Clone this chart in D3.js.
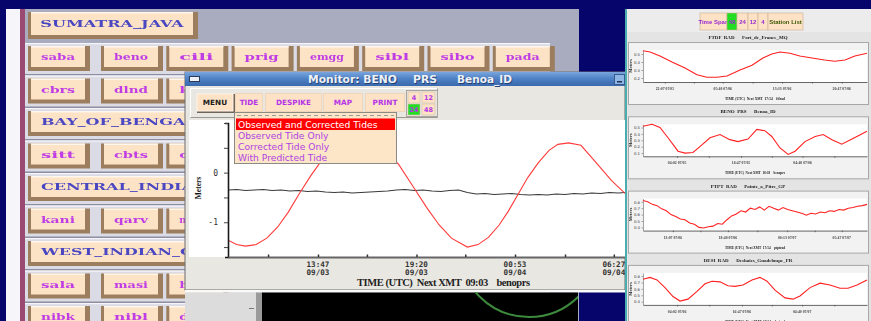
<!DOCTYPE html>
<html><head><meta charset="utf-8">
<script src="https://cdn.jsdelivr.net/npm/d3@7/dist/d3.min.js"></script>
<style>
html,body{margin:0;padding:0;background:#05056c;overflow:hidden}
svg{display:block}
.pre{white-space:pre}
</style></head><body>
<svg id="chart" width="871" height="321"></svg>
<script>
// ---------------- DATA ----------------
const sectionNames = ["SUMATRA_JAVA","BAY_OF_BENGAL","CENTRAL_INDIAN","WEST_INDIAN_OCEAN"];
const stationRow1 = ["saba","beno","cili","prig","emgg","sibl","sibo","pada"];
const stationRow2 = ["cbrs","dlnd","kris"];
const stationRow3 = ["sitt","cbts","chtt"];
const stationRow4 = ["kani","qarv","mumb"];
const stationRow5 = ["sala","masi","hani"];
const stationRow6 = ["nibk","nibl","dhar"];

const monitorTitle = ["Monitor: BENO","PRS","Benoa_ID"];
const menuButtons = ["MENU","TIDE","DESPIKE","MAP","PRINT"];
const spanButtons = ["4","12","24","48"];
const activeSpan = "24";
const menuItems = ["Observed and Corrected Tides","Observed Tide Only","Corrected Tide Only","With Predicted Tide"];
const monAxisTitle = "TIME (UTC)  Next XMT  09:03    benoprs";
const monYTitle = "Meters";

// hours since 09/03 00:00 UTC
const monMajorHours = [13.783, 19.333, 24.883, 30.45];
const monMajorTimes = ["13:47","19:20","00:53","06:27"];
const monMajorDates = ["09/03","09/03","09/04","09/04"];
const monMinorHours = [10.97, 16.54, 22.08, 27.7];
const monYTicks = [-1.5, -1, -0.5, 0, 0.5, 1];
const monYLabelled = [0, -1];

// red: corrected tide (m)
const correctedHours = [8.71,9.2,9.7,10.3,10.9,11.5,12.1,12.77,13.4,14.0,14.7,15.3,15.9,16.6,17.3,18.3,19.25,19.9,20.6,21.3,22.2,22.8,23.4,24.0,24.5,25.05,25.6,26.2,26.8,27.3,27.9,28.6,29.5,30.3,31.08];
const correctedLevel = [-1.36,-1.45,-1.48,-1.45,-1.32,-1.1,-0.8,-0.4,-0.05,0.25,0.48,0.62,0.66,0.6,0.45,0.18,-0.34,-0.7,-1.05,-1.32,-1.5,-1.45,-1.3,-1.05,-0.78,-0.44,-0.1,0.2,0.45,0.57,0.6,0.55,0.18,-0.15,-0.42];
// black: observed (m)
const observedHours = [8.7,9.2,9.7,10.2,10.7,11.2,11.7,12.2,12.7,13.2,13.7,14.2,14.7,15.2,15.7,16.2,16.7,17.2,17.7,18.2,18.7,19.2,19.7,20.2,20.7,21.2,21.7,22.2,22.7,23.2,23.7,24.2,24.7,25.2,25.7,26.2,26.7,27.2,27.7,28.2,28.7,29.2,29.7,30.2,30.7,31.1];
const observedLevel = [-0.35,-0.34,-0.36,-0.35,-0.34,-0.36,-0.35,-0.37,-0.36,-0.38,-0.37,-0.39,-0.40,-0.39,-0.41,-0.40,-0.39,-0.38,-0.37,-0.35,-0.34,-0.36,-0.35,-0.37,-0.38,-0.36,-0.35,-0.40,-0.43,-0.42,-0.44,-0.43,-0.42,-0.44,-0.45,-0.44,-0.45,-0.43,-0.44,-0.42,-0.43,-0.41,-0.42,-0.40,-0.41,-0.40];

// right panel
const rightButtons = ["Time Span","48","24","12","4","Station List"];
const rightActive = "48";
const panelTitles = ["FTDF  RAD      Fort_de_France_MQ","BENO  PRS      Benoa_ID","PTPT  RAD      Pointe_a_Pitre_GP","DESI  RAD      Deshaies_Guadeloupe_FR"];
const panelAxisTitles = ["TIME (UTC)  Next XMT  17:54    ftfrad","TIME (UTC)  Next XMT  18:18    benoprs","TIME (UTC)  Next XMT  17:54    ptptrad","TIME (UTC)  Next XMT  17:54    desirad"];
const panelYDomains = [[0.15,0.55],[0.05,0.55],[0.35,0.85],[0.35,0.85]];
const panelYTicks = [[0.2,0.3,0.4,0.5],[0.1,0.2,0.3,0.4,0.5],[0.4,0.5,0.6,0.7,0.8],[0.4,0.5,0.6,0.7,0.8]];
const panelMajorHours = [[4.7,17.1,29.8,42.6],[7.3,21.0,34.2],[6.4,18.2,30.9,42.6],[7.3,21.2,34.1]];
const panelMinorHours = [[10.9,23.5,36.2],[14.1,27.6,41.0],[12.3,24.5,36.8],[14.2,27.6,41.0]];
const panelTickLabels = [["22:07 07/05","05:40 07/06","13:13 07/06","20:47 07/06"],["04:02 07/05","16:47 07/05","04:40 07/06"],["13:07 07/06","18:40 07/06","00:13 07/07","05:47 07/07"],["04:02 07/06","16:47 07/06","04:40 07/07"]];

const ftdfHours = [0,1.5,3.64,6.21,9.0,11.57,13.7,15.86,18.0,20.8,23.36,25.7,27.6,29.36,31.5,33.6,36.2,38.9,41.1,43.3,45.4,48];
const ftdfLevel = [0.54,0.525,0.475,0.40,0.325,0.24,0.21,0.21,0.225,0.30,0.36,0.45,0.50,0.525,0.51,0.475,0.45,0.425,0.41,0.425,0.475,0.51];
const benoHours = [0,1.93,3.64,5.36,7.5,9.0,10.7,12.2,14.36,16.5,18.6,20.35,22.5,24.4,26.1,27.6,29.36,31.1,32.6,34.7,36.9,38.6,40.5,42.6,44.8,48];
const benoLevel = [0.52,0.55,0.50,0.34,0.13,0.10,0.11,0.20,0.34,0.39,0.31,0.28,0.32,0.47,0.45,0.36,0.18,0.08,0.13,0.28,0.36,0.39,0.31,0.24,0.32,0.44];
const ptptHours = [0,1,2,3,4,5,6,7,8,9,10,11,12,13,14,15,16,17,18,19,20,21,22,23,24,25,26,27,28,29,30,31,32,33,34,35,36,37,38,39,40,41,42,43,44,45,46,47,48];
const ptptLevel = [0.82,0.80,0.76,0.74,0.69,0.66,0.60,0.57,0.53,0.52,0.47,0.45,0.40,0.39,0.41,0.42,0.46,0.45,0.52,0.58,0.61,0.66,0.64,0.70,0.68,0.72,0.67,0.73,0.70,0.67,0.71,0.68,0.66,0.64,0.62,0.59,0.62,0.61,0.64,0.63,0.66,0.65,0.68,0.67,0.70,0.71,0.73,0.74,0.76];
const desiHours = [0,1.5,3.0,4.71,6.43,7.93,9.64,11.57,13.29,14.79,16.5,18.21,19.71,21.43,23.36,25.07,26.57,28.29,30.43,32.14,33.64,35.79,37.93,40.07,42.21,43.93,45.86,48];
const desiLevel = [0.75,0.78,0.74,0.62,0.48,0.41,0.44,0.56,0.68,0.72,0.71,0.65,0.64,0.66,0.74,0.78,0.72,0.58,0.46,0.44,0.49,0.62,0.69,0.66,0.61,0.61,0.66,0.74];
const panelHours = [ftdfHours, benoHours, ptptHours, desiHours];
const panelLevels = [ftdfLevel, benoLevel, ptptLevel, desiLevel];

// ---------------- DRAW ----------------
const svg = d3.select("#chart");
svg.append("rect").attr("width",871).attr("height",321).attr("fill","#05056c");
const defs = svg.append("defs");
defs.append("filter").attr("id","soft").attr("x","-5%").attr("y","-5%").attr("width","110%").attr("height","110%")
  .append("feGaussianBlur").attr("stdDeviation",0.55);
defs.append("filter").attr("id","soft2").append("feGaussianBlur").attr("stdDeviation",0.3);
const tg = defs.append("linearGradient").attr("id","titleGrad").attr("x1",0).attr("y1",0).attr("x2",0).attr("y2",1);
tg.append("stop").attr("offset","0%").attr("stop-color","#7aa6dc");
tg.append("stop").attr("offset","45%").attr("stop-color","#4f82c6");
tg.append("stop").attr("offset","100%").attr("stop-color","#3a68ac");
defs.append("clipPath").attr("id","monClip").append("rect").attr("x",228).attr("y",121).attr("width",397).attr("height",136);
defs.append("clipPath").attr("id","blackClip").append("rect").attr("x",262).attr("y",292).attr("width",316).attr("height",29);

// ----- left station panel -----
const left = svg.append("g").attr("filter","url(#soft)");
left.append("rect").attr("x",6).attr("y",9).attr("width",14).attr("height",312).attr("fill","#f6f6fa");
left.append("rect").attr("x",20).attr("y",9).attr("width",5).attr("height",312).attr("fill","#9a4a72");
left.append("rect").attr("x",25).attr("y",9).attr("width",554).attr("height",312).attr("fill","#a9abbf");

const rowTop = i => i === 0 ? 9 : 43 + 32.5*(i-1);
const hdrColor = "#4a46c2", stColor = "#c03ee6";
function drawBtn(g, x, y, w, h, label, color, tlen){
  g.append("rect").attr("x",x).attr("y",y).attr("width",w).attr("height",h).attr("fill","#9c7e5e");
  g.append("rect").attr("x",x+3).attr("y",y).attr("width",w-8).attr("height",h-4).attr("fill","#fde3c6");
  g.append("rect").attr("x",x+3).attr("y",y).attr("width",w-8).attr("height",1.5).attr("fill","#fff6ec");
  g.append("text").attr("x",x+3+(w-8)/2).attr("y",y+(h-4)/2+3.6).attr("text-anchor","middle")
    .attr("textLength",tlen).attr("lengthAdjust","spacingAndGlyphs")
    .attr("font-family","DejaVu Serif").attr("font-weight","bold").attr("font-size",10)
    .attr("fill",color).text(label);
}
const rows = [
  {h: sectionNames[0]}, {s: stationRow1}, {s: stationRow2}, {h: sectionNames[1]}, {s: stationRow3},
  {h: sectionNames[2]}, {s: stationRow4}, {h: sectionNames[3]}, {s: stationRow5}, {s: stationRow6}
];
rows.forEach((r,i)=>{
  const t = rowTop(i);
  if(i>0){
    left.append("rect").attr("x",25).attr("y",t).attr("width",525).attr("height",32.5).attr("fill","#dadbe5");
    left.append("rect").attr("x",25).attr("y",t).attr("width",525).attr("height",1.2).attr("fill","#f6f6fa");
    left.append("rect").attr("x",25).attr("y",t+31).attr("width",525).attr("height",1.5).attr("fill","#8e8ea2");
  }
  if(r.h){
    const len = r.h.length;
    drawBtn(left, 28, t+3, i===0?170:12.2*len+25, i===0?27:25, r.h, hdrColor, 12.2*len-3);
  } else {
    r.s.forEach((lab,j)=>{
      const x = j===0 ? 28 : 101 + 65.3*(j-1);
      drawBtn(left, x, t+3, 62, 25, lab, stColor, 34);
    });
  }
});

// ----- monitor window -----
const mon = svg.append("g");
mon.append("rect").attr("x",185).attr("y",72).attr("width",440).attr("height",218).attr("fill","#e9e7e2").attr("stroke","#6c6c6c");
mon.append("rect").attr("x",185).attr("y",72).attr("width",440).attr("height",14).attr("fill","url(#titleGrad)");
mon.append("rect").attr("x",189.5).attr("y",76.5).attr("width",10).attr("height",5).attr("fill","#eef2f8").attr("stroke","#2a3a5a");
mon.append("rect").attr("x",614.5).attr("y",74.5).attr("width",10).attr("height",10).attr("fill","#8fb6e4").attr("stroke","#3a5a90");
mon.append("rect").attr("x",617).attr("y",81).attr("width",5).attr("height",1.5).attr("fill","#203050");
const titleX = [308, 413, 457], titleLen = [89, 24, 55];
monitorTitle.forEach((t,i)=>{
  mon.append("text").attr("x",titleX[i]+0.8).attr("y",83.8).attr("textLength",titleLen[i]).attr("lengthAdjust","spacingAndGlyphs")
    .attr("font-family","DejaVu Sans").attr("font-weight","bold").attr("font-size",10).attr("fill","#23406e").text(t);
  mon.append("text").attr("x",titleX[i]).attr("y",83).attr("textLength",titleLen[i]).attr("lengthAdjust","spacingAndGlyphs")
    .attr("font-family","DejaVu Sans").attr("font-weight","bold").attr("font-size",10).attr("fill","#eef1f7").text(t);
});
// toolbar frame
mon.append("path").attr("d","M190.5,117.5V88.5H437.5").attr("fill","none").attr("stroke","#ffffff");
mon.append("path").attr("d","M190.5,117.5H437.5V88.5").attr("fill","none").attr("stroke","#9a9890");
const btnX = [197,235,265,323,365], btnW = [36,28,57,40,40];
menuButtons.forEach((b,i)=>{
  if(i===0){
    mon.append("rect").attr("x",btnX[i]).attr("y",94).attr("width",btnW[i]+2).attr("height",19).attr("fill","#6e6458");
    mon.append("rect").attr("x",btnX[i]).attr("y",94).attr("width",btnW[i]).attr("height",17).attr("fill","#fde2c6").attr("stroke","#fff3e6");
  } else {
    mon.append("rect").attr("x",btnX[i]+0.5).attr("y",93.5).attr("width",btnW[i]-1).attr("height",18).attr("fill","#fde2c6").attr("stroke","#efd6bb");
  }
  mon.append("text").attr("x",btnX[i]+btnW[i]/2).attr("y",105.3).attr("text-anchor","middle")
    .attr("font-family","DejaVu Sans").attr("font-weight","bold").attr("font-size",7.3)
    .attr("fill", i===0 ? "#1a1a1a" : "#b634e6").text(b);
});
// span grid
mon.append("rect").attr("x",406.5).attr("y",90.5).attr("width",31).attr("height",26).attr("fill","#e9e7e2").attr("stroke","#a8a69e");
const gridPos = {"4":[408,92,12],"12":[422,92,13],"24":[408,104,12],"48":[422,104,13]};
spanButtons.forEach(s=>{
  const p = gridPos[s];
  mon.append("rect").attr("x",p[0]).attr("y",p[1]).attr("width",p[2]).attr("height",11)
    .attr("fill", s===activeSpan ? "#22dd22" : "#fde2c6").attr("stroke","#d8c0a4").attr("stroke-width",0.6);
  mon.append("text").attr("x",p[0]+p[2]/2).attr("y",p[1]+8.2).attr("text-anchor","middle")
    .attr("font-family","DejaVu Sans").attr("font-weight","bold").attr("font-size",6.5).attr("fill","#b634e6").text(s);
});
// plot area
mon.append("rect").attr("x",189).attr("y",120).attr("width",436).attr("height",137).attr("fill","#ffffff");
const xM = d3.scaleLinear().domain([8.713, 31.08]).range([228, 625]);
const yM = d3.scaleLinear().domain([-1.7, 1.0]).range([257, 123]);
const lineM = d3.line().x(d=>xM(d[0])).y(d=>yM(d[1]));
const plotG = mon.append("g").attr("clip-path","url(#monClip)");
plotG.append("path").datum(observedHours.map((h,i)=>[h, observedLevel[i]])).attr("d",lineM)
  .attr("fill","none").attr("stroke","#3a3a3a").attr("stroke-width",1.1);
plotG.append("path").datum(correctedHours.map((h,i)=>[h, correctedLevel[i]])).attr("d",lineM)
  .attr("fill","none").attr("stroke","#ff3a3a").attr("stroke-width",1.1);
// axes
const yAx = mon.append("g").attr("transform","translate(228,0)")
  .call(d3.axisLeft(yM).tickValues(monYTicks).tickSize(4).tickSizeOuter(3).tickPadding(6)
    .tickFormat(d => monYLabelled.includes(d) ? String(d) : ""));
yAx.select(".domain").attr("stroke","#1a1a1a").attr("stroke-width",1.6);
yAx.selectAll(".tick line").attr("stroke","#444");
yAx.selectAll(".tick text").attr("font-family","DejaVu Sans Mono").attr("font-size",8).attr("fill","#333");
const xAx = mon.append("g").attr("transform","translate(0,257)")
  .call(d3.axisBottom(xM).tickValues(monMajorHours.concat(monMinorHours)).tickSize(-2.5).tickSizeOuter(0).tickFormat(""));
xAx.select(".domain").attr("stroke","#666").attr("stroke-width",2);
xAx.selectAll(".tick line").attr("stroke","#333").attr("stroke-width",1.5);
monMajorHours.forEach((h,i)=>{
  mon.append("text").attr("x",xM(h)).attr("y",267).attr("text-anchor","middle")
    .attr("font-family","DejaVu Sans Mono").attr("font-weight","bold").attr("font-size",7.6).attr("fill","#333").text(monMajorTimes[i]);
  mon.append("text").attr("x",xM(h)).attr("y",274.5).attr("text-anchor","middle")
    .attr("font-family","DejaVu Sans Mono").attr("font-weight","bold").attr("font-size",7.6).attr("fill","#333").text(monMajorDates[i]);
});
mon.append("text").attr("class","pre").attr("x",357).attr("y",285.5).attr("textLength",173).attr("lengthAdjust","spacing")
  .attr("font-family","Liberation Serif").attr("font-weight","bold").attr("font-size",10.5).attr("fill","#1e1e1e").text(monAxisTitle);
mon.append("text").attr("transform","translate(200.5,188) rotate(-90)").attr("text-anchor","middle")
  .attr("font-family","Liberation Serif").attr("font-weight","bold").attr("font-size",7.5).attr("fill","#111").text(monYTitle);
// dropdown
const dd = mon.append("g");
dd.append("rect").attr("x",234.5).attr("y",112.5).attr("width",162).attr("height",51).attr("fill","#fde5c7").attr("stroke","#8c8a86");
dd.append("line").attr("x1",237).attr("x2",394).attr("y1",115.5).attr("y2",115.5).attr("stroke","#9a9a9a").attr("stroke-dasharray","4,3");
dd.append("rect").attr("x",236).attr("y",118.5).attr("width",159).attr("height",11.5).attr("fill","#ff0000");
menuItems.forEach((m,i)=>{
  dd.append("text").attr("x",238).attr("y",128 + 11*i).attr("font-family","DejaVu Sans").attr("font-size",9.2)
    .attr("fill", i===0 ? "#ffffff" : "#b043e2").text(m);
});
// window bottom edge
mon.append("rect").attr("x",185).attr("y",290).attr("width",440).attr("height",2.5).attr("fill","#fafafa");

// ----- below window -----
svg.append("rect").attr("x",185).attr("y",292.5).attr("width",72).attr("height",29).attr("fill","#dcdcdc");
svg.append("rect").attr("x",256).attr("y",292.5).attr("width",6).attr("height",29).attr("fill","#9a9a9a");
svg.append("rect").attr("x",249).attr("y",308).attr("width",5).attr("height",1).attr("fill","#777");
svg.append("rect").attr("x",262).attr("y",292.5).attr("width",316).attr("height",29).attr("fill","#000000");
const ap = d3.path(); ap.arc(529, 247, 70, 0, Math.PI*2);
svg.append("path").attr("d",ap.toString()).attr("clip-path","url(#blackClip)")
  .attr("fill","none").attr("stroke","#3d8a3d").attr("stroke-width",2);

// ----- right panel -----
const rp = svg.append("g");
rp.append("rect").attr("x",626).attr("y",9).attr("width",245).attr("height",312).attr("fill","#e2e2e2");
rp.append("rect").attr("x",625).attr("y",9).attr("width",2).attr("height",312).attr("fill","#4aaeb0");
rp.append("rect").attr("x",627).attr("y",9).attr("width",244).attr("height",23).attr("fill","#ececec");
rp.append("line").attr("x1",627).attr("x2",871).attr("y1",32.5).attr("y2",32.5).attr("stroke","#b4b4b4");
const rbX = [700,727,737,748,758,768], rbW = [27,10,11,10,10,35];
const rbt = rp.append("g").attr("filter","url(#soft2)");
rightButtons.forEach((b,i)=>{
  rbt.append("rect").attr("x",rbX[i]).attr("y",13).attr("width",rbW[i]).attr("height",17)
    .attr("fill", b===rightActive ? "#22dd22" : "#fde2c6").attr("stroke","#c8ae92").attr("stroke-width",0.6);
  rbt.append("text").attr("x",rbX[i]+rbW[i]/2).attr("y",24).attr("text-anchor","middle")
    .attr("font-family","Liberation Sans Narrow, Liberation Sans").attr("font-weight","bold").attr("font-size",6)
    .attr("fill", i===5 ? "#3c5a00" : "#9a2ad0").text(b);
});
panelTitles.forEach((title,i)=>{
  const b = 37 + 74.3*i;
  const g = rp.append("g");
  g.append("rect").attr("x",627).attr("y",b-5).attr("width",244).attr("height",10).attr("fill","#e4e4e4");
  g.append("rect").attr("x",628.5).attr("y",b+5.5).attr("width",240).attr("height",62).attr("fill","#f2f2f2").attr("stroke","#a8a8a8");
  g.append("rect").attr("x",643).attr("y",b+13).attr("width",224).attr("height",32).attr("fill","#ffffff");
  const xS = d3.scaleLinear().domain([0,48]).range([643,867]);
  const yS = d3.scaleLinear().domain(panelYDomains[i]).range([b+45, b+13]);
  const tg2 = g.append("g").attr("filter","url(#soft2)");
  tg2.append("text").attr("class","pre").attr("x",748).attr("y",b+2).attr("text-anchor","middle")
    .attr("font-family","Liberation Serif").attr("font-weight","bold").attr("font-size",5).attr("fill","#222").text(title);
  const ya = g.append("g").attr("transform",`translate(643,0)`)
    .call(d3.axisLeft(yS).tickValues(panelYTicks[i]).tickSize(1.5).tickSizeOuter(0).tickPadding(1.5).tickFormat(d3.format(".1f")));
  ya.select(".domain").attr("stroke","#666").attr("stroke-width",0.6);
  ya.selectAll(".tick line").attr("stroke","#666").attr("stroke-width",0.6);
  ya.selectAll(".tick text").attr("font-family","DejaVu Sans").attr("font-size",3.8).attr("fill","#333");
  const xa = g.append("g").attr("transform",`translate(0,${b+45})`)
    .call(d3.axisBottom(xS).tickValues(panelMajorHours[i].concat(panelMinorHours[i])).tickSize(1.6).tickSizeOuter(0).tickFormat(""));
  xa.select(".domain").attr("stroke","#666").attr("stroke-width",1);
  xa.selectAll(".tick line").attr("stroke","#555").attr("stroke-width",0.8);
  panelMajorHours[i].forEach((h,k)=>{
    tg2.append("text").attr("x",xS(h)).attr("y",b+53).attr("text-anchor","middle")
      .attr("font-family","Liberation Serif").attr("font-weight","bold").attr("font-size",3.8).attr("fill","#444").text(panelTickLabels[i][k]);
  });
  tg2.append("text").attr("class","pre").attr("x",755).attr("y",b+63).attr("text-anchor","middle").attr("textLength",60).attr("lengthAdjust","spacingAndGlyphs")
    .attr("font-family","Liberation Serif").attr("font-weight","bold").attr("font-size",4.8).attr("fill","#222").text(panelAxisTitles[i]);
  tg2.append("text").attr("transform",`translate(631.5,${b+29}) rotate(-90)`).attr("text-anchor","middle")
    .attr("font-family","Liberation Serif").attr("font-weight","bold").attr("font-size",4.5).attr("fill","#222").text("Meters");
  const ln = d3.line().x(d=>xS(d[0])).y(d=>yS(d[1]));
  g.append("path").datum(panelHours[i].map((h,k)=>[h, panelLevels[i][k]])).attr("d",ln)
    .attr("fill","none").attr("stroke","#ff2020").attr("stroke-width",1.1);
});
</script>
</body></html>
